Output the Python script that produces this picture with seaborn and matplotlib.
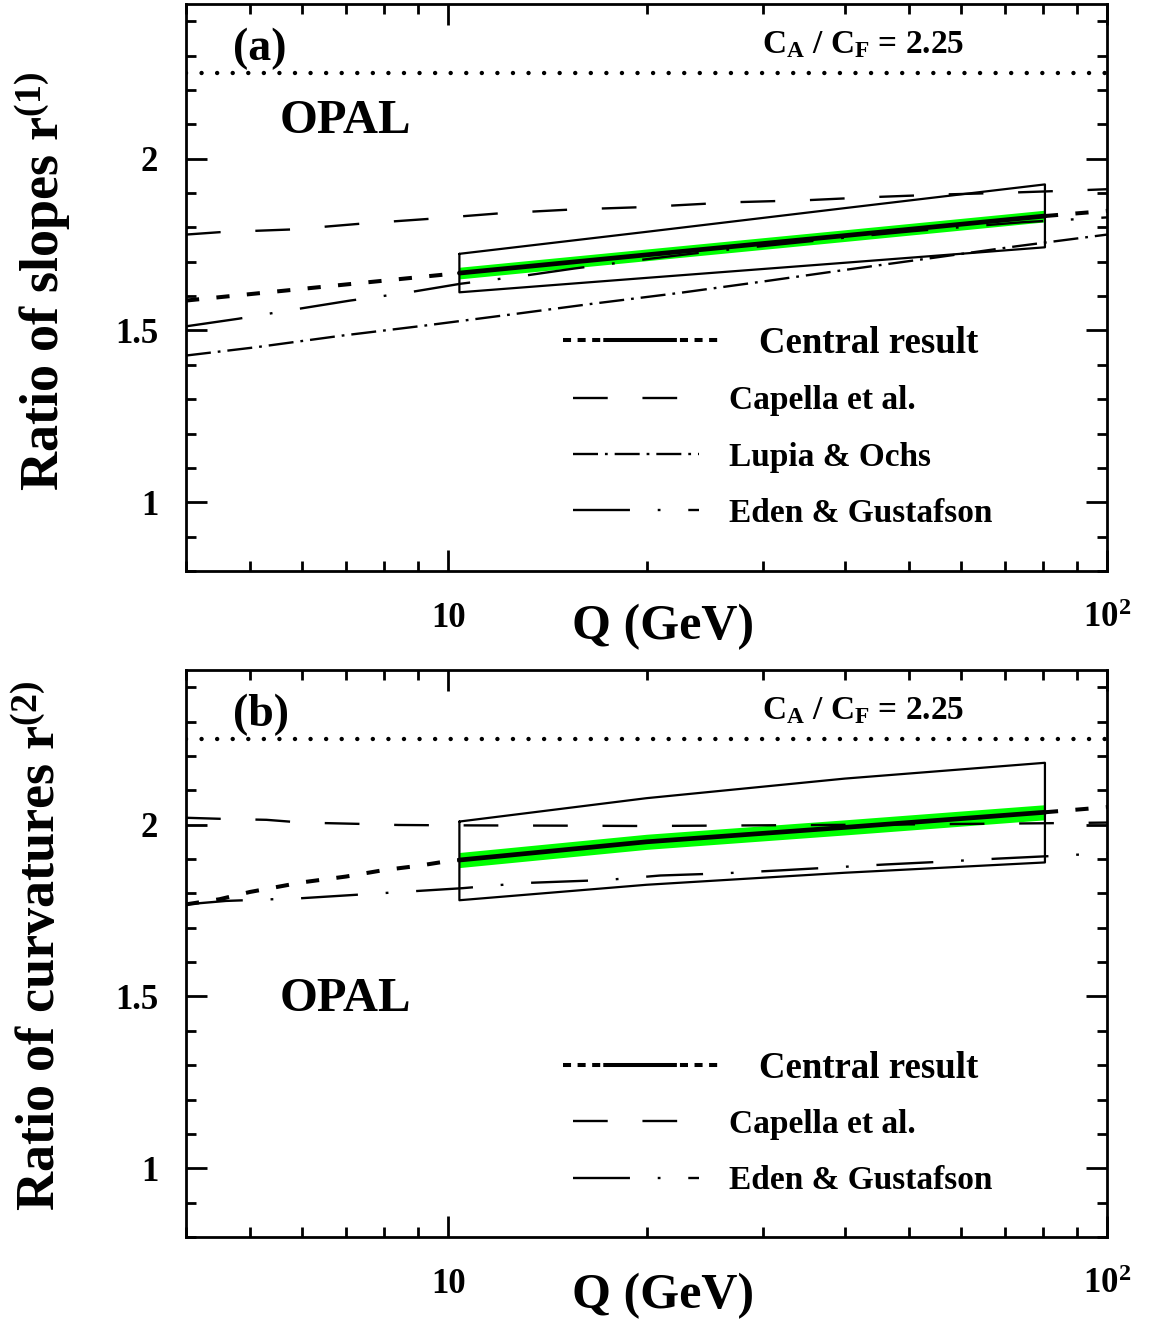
import numpy as np
import matplotlib
matplotlib.use("Agg")
import matplotlib.pyplot as plt
import seaborn as sns
from matplotlib.lines import Line2D
from matplotlib.ticker import FixedLocator, FixedFormatter, NullFormatter, MultipleLocator

# ---- values ----
# panel (a): ratio of slopes r(1)
q_central_a = np.array([4, 10.4, 20, 40, 80.5, 100])
r_central_a = np.array([1.587, 1.667, 1.720, 1.776, 1.833, 1.848])
q_box = np.array([10.4, 20, 40, 80.5])
band_lo_a = np.array([1.650, 1.703, 1.759, 1.816])
band_hi_a = np.array([1.684, 1.737, 1.793, 1.850])
box_lo_a = np.array([1.611, 1.653, 1.697, 1.742])
box_hi_a = np.array([1.723, 1.787, 1.856, 1.925])

q_capella_a = np.array([4, 4.5, 5.8, 7.4, 9.4, 12, 15.4, 19.8, 27, 35, 44, 55, 71, 91, 100])
r_capella_a = np.array([1.779, 1.786, 1.794, 1.811, 1.825, 1.841, 1.852, 1.859, 1.873, 1.879,
                        1.888, 1.895, 1.901, 1.908, 1.911])
q_lupia_a = np.array([4, 5.1, 6.9, 9.2, 12.4, 16.6, 22.4, 30.2, 40.3, 54.3, 72.9, 100])
r_lupia_a = np.array([1.427, 1.451, 1.485, 1.514, 1.546, 1.578, 1.609, 1.643, 1.677, 1.711,
                      1.745, 1.779])
q_eden_a = np.array([4, 4.8, 5.8, 7.1, 8.6, 10.45, 12.8, 15.5, 20.3, 25.3, 34.4, 41.9, 50.8,
                     62.2, 74.5, 92.3, 100])
r_eden_a = np.array([1.512, 1.534, 1.560, 1.587, 1.609, 1.636, 1.657, 1.680, 1.709, 1.731,
                     1.757, 1.774, 1.789, 1.803, 1.815, 1.825, 1.829])

# panel (b): ratio of curvatures r(2)
q_central_b = np.array([4, 4.5, 5, 6, 7, 8, 9, 10, 10.4, 20, 40, 80.5, 100])
r_central_b = np.array([1.768, 1.783, 1.804, 1.832, 1.849, 1.868, 1.880, 1.894, 1.897, 1.950,
                        1.992, 2.036, 2.051])
band_lo_b = np.array([1.875, 1.928, 1.970, 2.014])
band_hi_b = np.array([1.919, 1.972, 2.014, 2.058])
box_lo_b = np.array([1.780, 1.825, 1.860, 1.890])
box_hi_b = np.array([2.009, 2.077, 2.134, 2.180])

q_capella_b = np.array([4, 4.5, 5.3, 6, 7.4, 8.4, 10, 15, 20, 30, 45, 60, 80, 100])
r_capella_b = np.array([2.020, 2.017, 2.014, 2.006, 2.002, 1.999, 1.998, 1.997, 1.996, 1.998,
                        2.000, 2.002, 2.004, 2.006])
q_eden_b = np.array([4, 4.6, 6, 7.85, 10.5, 13, 17.4, 21, 26, 32, 38, 46, 56, 68, 83, 100])
r_eden_b = np.array([1.768, 1.778, 1.786, 1.800, 1.815, 1.830, 1.839, 1.852, 1.858, 1.867,
                     1.875, 1.884, 1.892, 1.901, 1.909, 1.917])

ca_cf = 2.25
x_major = [10, 100]
x_major_labels = ["10", r"$10^{2}$"]
y_major = [1, 1.5, 2]
y_major_labels = ["1", "1.5", "2"]

# ---- style ----
sns.set_theme(style="ticks")
plt.rcParams["font.family"] = ["Liberation Serif", "DejaVu Serif"]
plt.rcParams["font.weight"] = "bold"
plt.rcParams["mathtext.fontset"] = "custom"
plt.rcParams["mathtext.rm"] = "Liberation Serif:bold"
plt.rcParams["mathtext.it"] = "Liberation Serif:bold"
plt.rcParams["mathtext.bf"] = "Liberation Serif:bold"
plt.rcParams["lines.scale_dashes"] = False
plt.rcParams["axes.edgecolor"] = "black"
plt.rcParams["axes.labelcolor"] = "black"
plt.rcParams["text.color"] = "black"
plt.rcParams["axes.linewidth"] = 2
plt.rcParams["xtick.color"] = "black"
plt.rcParams["ytick.color"] = "black"
plt.rcParams["xtick.labelcolor"] = "black"
plt.rcParams["ytick.labelcolor"] = "black"

GREEN = "#00ff00"
ls_capella = (0, (25, 25))
ls_lupia = (0, (18, 5, 2, 5))
ls_eden = (0, (41, 20, 2, 20))
ls_central = (0, (9.5, 12.5))
ls_central_leg = (0, (5.8, 4.7, 5.8, 4.7, 5.8, 2.2, 53, 2.2, 5.8, 4.7, 5.8, 4.7, 5.8, 30))
LW_MODEL = 1.7


def draw_panel(ax, q_c, r_c, band_lo, band_hi, box_lo, box_hi, models, ylab, tag,
               opal_y, ylab_y, xlab_y, leg_c_y, leg_m_y):
    ax.set_xscale("log")
    # green band and error box
    ax.fill_between(q_box, band_lo, band_hi, color=GREEN, lw=0, zorder=2)
    bx = np.r_[q_box, q_box[::-1], q_box[:1]]
    by = np.r_[box_hi, box_lo[::-1], box_hi[:1]]
    ax.plot(bx, by, color="black", lw=1.6, zorder=3)

    # model curves
    for q, r, ls, lab in models:
        sns.lineplot(x=q, y=r, ax=ax, color="black", linewidth=LW_MODEL, linestyle=ls,
                     estimator=None, sort=False, zorder=4)

    # central result: dashed outside the fitted range, solid inside
    left = q_c <= q_box[0]
    mid = (q_c >= q_box[0]) & (q_c <= q_box[-1])
    right = q_c >= q_box[-1]
    for m in (left, right):
        sns.lineplot(x=q_c[m], y=r_c[m], ax=ax, color="black", linewidth=2.9,
                     linestyle=ls_central, estimator=None, sort=False, zorder=5)
    sns.lineplot(x=q_c[mid], y=r_c[mid], ax=ax, color="black", linewidth=3.4,
                 estimator=None, sort=False, zorder=6)

    ax.axhline(ca_cf, color="black", lw=3.2, linestyle=(0, (0.01, 11.2)),
               dash_capstyle="round", zorder=3)

    ax.set_xlim(4, 100)
    ax.set_ylim(0.8, 2.45)
    ax.xaxis.set_major_locator(FixedLocator(x_major))
    ax.xaxis.set_major_formatter(FixedFormatter(x_major_labels))
    ax.xaxis.set_minor_locator(FixedLocator([m * d for d in (1, 10) for m in range(2, 10)]))
    ax.xaxis.set_minor_formatter(NullFormatter())
    ax.yaxis.set_major_locator(FixedLocator(y_major))
    ax.yaxis.set_major_formatter(FixedFormatter(y_major_labels))
    ax.yaxis.set_minor_locator(MultipleLocator(0.1))
    ax.tick_params(which="both", direction="in", top=True, right=True, width=2,
                   labelsize=25, colors="black")
    ax.tick_params(which="major", length=15)
    ax.tick_params(which="minor", length=7.5)
    ax.tick_params(axis="x", which="both", pad=22)
    ax.tick_params(axis="y", which="both", pad=20)

    ax.set_xlabel("Q (GeV)", fontsize=36, fontweight="bold", color="black")
    ax.xaxis.set_label_coords(0.518, xlab_y)
    ax.xaxis.label.set_va("center")
    ax.set_ylabel(ylab, fontsize=39, fontweight="bold", color="black")
    ax.yaxis.set_label_coords(-0.156, ylab_y)
    ax.yaxis.label.set_va("center")

    ax.text(0.051, 0.901, tag, transform=ax.transAxes, fontsize=33, va="baseline")
    ax.text(0.102, opal_y, "OPAL", transform=ax.transAxes, fontsize=35, va="baseline")
    ax.text(0.735, 0.913, r"C$_{\rm A}$ / C$_{\rm F}$ = 2.25", transform=ax.transAxes,
            fontsize=24, ha="center", va="baseline")

    # legends
    h_c = Line2D([], [], color="black", lw=2.9, linestyle=ls_central_leg)
    leg1 = ax.legend([h_c], ["Central result"], loc="center left",
                     bbox_to_anchor=(0.409, leg_c_y), frameon=False, fontsize=26.5,
                     handlelength=4.35, handletextpad=0.98, borderpad=0, borderaxespad=0)
    ax.add_artist(leg1)
    hs = [Line2D([], [], color="black", lw=LW_MODEL, linestyle=ls) for _, _, ls, _ in models]
    labs = [lab for _, _, _, lab in models]
    ax.legend(hs, labs, loc="center left", bbox_to_anchor=(0.420, leg_m_y), frameon=False,
              fontsize=24, handlelength=3.8, handletextpad=0.9, labelspacing=0.76,
              borderpad=0, borderaxespad=0)


fig = plt.figure(figsize=(11.52, 13.23), dpi=100)
ax_a = fig.add_axes([186 / 1152, (1323 - 571) / 1323, 921 / 1152, 567 / 1323])
ax_b = fig.add_axes([186 / 1152, (1323 - 1237) / 1323, 921 / 1152, 567 / 1323])

models_a = [
    (q_capella_a, r_capella_a, ls_capella, "Capella et al."),
    (q_lupia_a, r_lupia_a, ls_lupia, "Lupia & Ochs"),
    (q_eden_a, r_eden_a, ls_eden, "Eden & Gustafson"),
]
models_b = [
    (q_capella_b, r_capella_b, ls_capella, "Capella et al."),
    (q_eden_b, r_eden_b, ls_eden, "Eden & Gustafson"),
]

draw_panel(ax_a, q_central_a, r_central_a, band_lo_a, band_hi_a, box_lo_a, box_hi_a,
           models_a, r"Ratio of slopes r$^{(1)}$", "(a)", 0.772, 0.511, -0.099, 0.402, 0.201)
draw_panel(ax_b, q_central_b, r_central_b, band_lo_b, band_hi_b, box_lo_b, box_hi_b,
           models_b, r"Ratio of curvatures r$^{(2)}$", "(b)", 0.399, 0.513, -0.104, 0.298, 0.149)

fig.savefig("out.png", dpi=100)
